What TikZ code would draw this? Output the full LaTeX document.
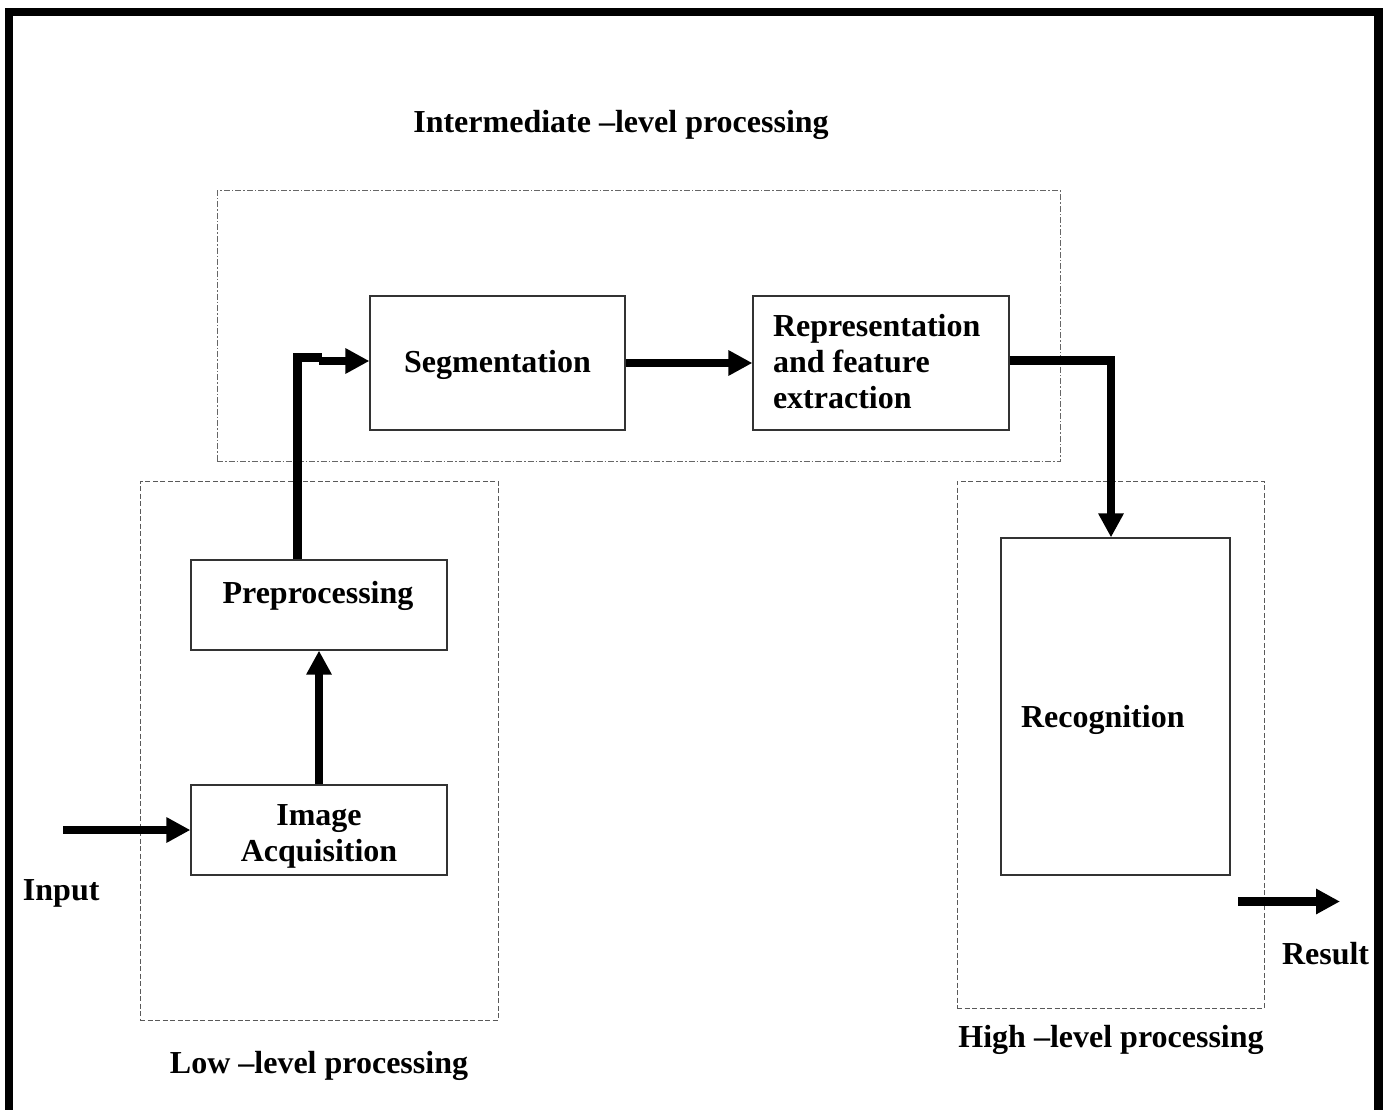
\documentclass[tikz,border=0pt]{standalone}
\usepackage{fontspec}
\setmainfont{Liberation Serif}
\usetikzlibrary{arrows.meta}

\tikzset{
  lbl/.style={font=\bfseries\fontsize{32}{36}\selectfont, inner sep=0pt, outer sep=0pt},
  stagebox/.style={draw=black!80, line width=1.2pt, inner sep=0pt, fill=white},
  lowgroup/.style={draw=black!65, line width=1pt, dash pattern=on 5pt off 2.5pt, inner sep=0pt},
  midgroup/.style={draw=black!60, line width=1pt, dash pattern=on 6pt off 2pt on 1.5pt off 2pt, inner sep=0pt},
  flowline/.style={line width=8.5pt, line join=miter},
  flow/.style={flowline, -{Triangle[length=24pt, width=24pt]}},
}

\begin{document}
\begin{tikzpicture}[x=1pt, y=-1pt]
\useasboundingbox (0,0) rectangle (1383,1110);

% outer frame, open at the bottom
\draw[line width=8.5pt, line join=miter] (9,1125) -- (9,12) -- (1378.5,12) -- (1378.5,1125);

% processing-level groups
\node[midgroup, minimum width=843pt, minimum height=270pt] (midgrp) at (638.5,326) {};
\node[lowgroup, minimum width=358pt, minimum height=539pt] (lowgrp) at (319,750.5) {};
\node[lowgroup, minimum width=307pt, minimum height=527pt] (highgrp) at (1110.5,744.5) {};

% processing stages
\node[stagebox, minimum width=255pt, minimum height=134pt] (seg) at (497.5,363) {};
\node[stagebox, minimum width=256pt, minimum height=134pt] (rep) at (881,363) {};
\node[stagebox, minimum width=256pt, minimum height=90pt] (pre) at (319,605) {};
\node[stagebox, minimum width=256pt, minimum height=90pt] (acq) at (319,830) {};
\node[stagebox, minimum width=229pt, minimum height=337pt] (rec) at (1115.5,706.5) {};

% stage texts (base anchor of a multi-line node is its last line)
\node[lbl, anchor=base] (segtxt) at (497.5,372) {Segmentation};
\node[lbl, anchor=base west, align=left] (reptxt) at (773,408) {Representation\\and feature\\extraction};
\node[lbl, anchor=base] (pretxt) at (318,603) {Preprocessing};
\node[lbl, anchor=base, align=center] (acqtxt) at (319,861) {Image\\Acquisition};
\node[lbl, anchor=base west] (rectxt) at (1021,727) {Recognition};

% group and terminal labels
\node[lbl, anchor=base] (midlbl) at (621,133) {Intermediate –level processing};
\node[lbl, anchor=base] (lowlbl) at (319,1073) {Low –level processing};
\node[lbl, anchor=base] (highlbl) at (1111,1047) {High –level processing};
\node[lbl, anchor=base west] (inlbl) at (23,900) {Input};
\node[lbl, anchor=base west] (outlbl) at (1282,964) {Result};

% connector end points
\coordinate (inp) at (63,830);
\coordinate (c1) at (297.5,357.5);
\coordinate (c2) at (322,357.5);
\coordinate (c3) at (319,361);
\coordinate (c4) at (1111,360.5);
\coordinate (r1) at (1238,901.5);
\coordinate (r2) at (1340,901.5);

% data flow
\draw[flow] (inp) -- (acq.west);
\draw[flow] (acq.north) -- (pre.south);
\draw[flowline] (pre.north -| c1) -- (c1) -- (c2);
\draw[flow] (c3) -- (c3 -| seg.west);
\draw[flow] (seg.east) -- (rep.west);
\draw[flow] (c4 -| rep.east) -- (c4) -- (c4 |- rec.north);
\draw[flow] (r1) -- (r2);
\end{tikzpicture}
\end{document}
